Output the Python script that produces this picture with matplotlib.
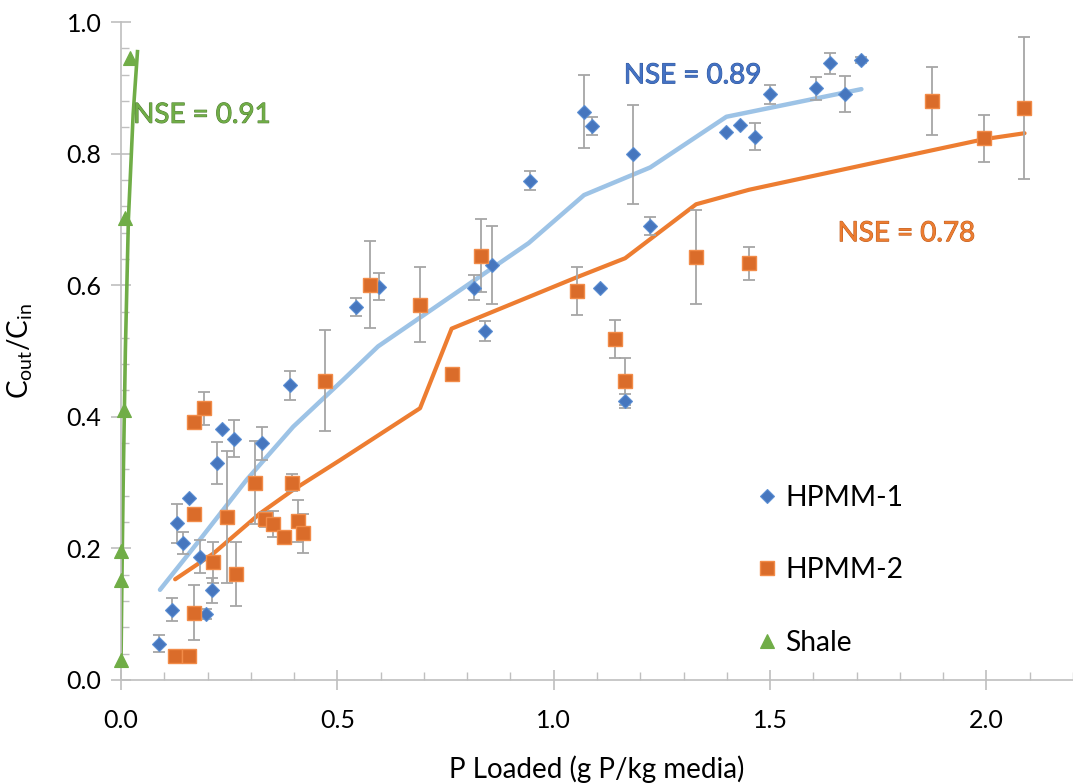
import matplotlib
matplotlib.use("Agg")
import matplotlib.pyplot as plt
import matplotlib.patheffects as pe
from matplotlib.ticker import MultipleLocator, FormatStrFormatter

plt.rcParams['font.family'] = ['Lato', 'DejaVu Sans']
plt.rcParams['mathtext.default'] = 'regular'

# ---------------- data ----------------
# HPMM-1 observations
h1_x = [0.088, 0.117, 0.130, 0.143, 0.156, 0.182, 0.196, 0.210, 0.222, 0.234, 0.262,
        0.326, 0.390, 0.544, 0.597, 0.816, 0.842, 0.857, 0.946, 1.070, 1.088, 1.107,
        1.164, 1.184, 1.223, 1.399, 1.431, 1.466, 1.500, 1.607, 1.638, 1.672, 1.710]
h1_y = [0.055, 0.107, 0.238, 0.208, 0.277, 0.187, 0.100, 0.136, 0.330, 0.381, 0.367,
        0.360, 0.448, 0.567, 0.598, 0.596, 0.530, 0.631, 0.759, 0.864, 0.842, 0.595,
        0.424, 0.799, 0.690, 0.833, 0.844, 0.826, 0.890, 0.899, 0.937, 0.891, 0.942]
h1_err = [0.013, 0.017, 0.030, 0.017, 0.0, 0.025, 0.008, 0.019, 0.032, 0.0, 0.028,
          0.025, 0.022, 0.014, 0.020, 0.019, 0.015, 0.059, 0.015, 0.055, 0.014, 0.0,
          0.010, 0.075, 0.013, 0.0, 0.0, 0.021, 0.014, 0.017, 0.016, 0.027, 0.005]

# HPMM-2 observations
h2_x = [0.125, 0.158, 0.169, 0.169, 0.169, 0.192, 0.213, 0.244, 0.266, 0.309, 0.333,
        0.352, 0.376, 0.394, 0.408, 0.420, 0.472, 0.575, 0.691, 0.764, 0.831, 1.053,
        1.142, 1.165, 1.329, 1.451, 1.874, 1.995, 2.086]
h2_y = [0.036, 0.036, 0.102, 0.252, 0.392, 0.413, 0.179, 0.248, 0.161, 0.300, 0.244,
        0.237, 0.217, 0.300, 0.241, 0.223, 0.455, 0.601, 0.570, 0.465, 0.645, 0.591,
        0.518, 0.454, 0.643, 0.633, 0.880, 0.823, 0.869]
h2_err = [0.0, 0.0, 0.042, 0.0, 0.0, 0.025, 0.031, 0.100, 0.049, 0.063, 0.012,
          0.020, 0.0, 0.013, 0.032, 0.030, 0.077, 0.066, 0.057, 0.0, 0.056, 0.036,
          0.029, 0.036, 0.072, 0.025, 0.052, 0.036, 0.108]

# Shale observations
sh_x = [0.001, 0.001, 0.001, 0.006, 0.010, 0.021]
sh_y = [0.030, 0.152, 0.196, 0.410, 0.702, 0.945]

# model curves
m1_x = [0.090, 0.182, 0.290, 0.398, 0.513, 0.594, 0.942, 1.070, 1.223, 1.399, 1.607, 1.711]
m1_y = [0.137, 0.213, 0.304, 0.385, 0.456, 0.507, 0.664, 0.737, 0.779, 0.856, 0.884, 0.898]

m2_x = [0.125, 0.213, 0.321, 0.398, 0.506, 0.691, 0.764, 1.053, 1.165, 1.329, 1.451, 1.874, 1.995, 2.088]
m2_y = [0.153, 0.192, 0.253, 0.289, 0.334, 0.413, 0.534, 0.612, 0.641, 0.723, 0.745, 0.805, 0.822, 0.831]

ms_x = [0.000, 0.002, 0.005, 0.010, 0.017, 0.028, 0.038]
ms_y = [0.030, 0.150, 0.300, 0.500, 0.700, 0.860, 0.955]

x_ticks = [0.0, 0.5, 1.0, 1.5, 2.0]
y_ticks = [0.0, 0.2, 0.4, 0.6, 0.8, 1.0]

# ---------------- styling ----------------
BLUE_F, BLUE_E = '#4676BE', '#5B8FD3'
ORG_F, ORG_E = '#DA6C2A', '#F28B48'
GRN = '#70AD47'
BLUE_LINE = '#9DC3E6'
ORG_LINE = '#ED7D31'
ERR_C = '#A6A6A6'
AX_C = '#BFBFBF'

fig = plt.figure(figsize=(10.73, 7.84), dpi=100)
ax = fig.add_axes([0.1128, 0.1327, 0.8872, 0.8392])

# model lines
ax.plot(m1_x, m1_y, color=BLUE_LINE, lw=3.2, zorder=2, solid_capstyle='round')
ax.plot(m2_x, m2_y, color=ORG_LINE, lw=3.0, zorder=2, solid_capstyle='round')
ax.plot(ms_x, ms_y, color=GRN, lw=2.6, zorder=2)

# error bars
ax.errorbar(h1_x, h1_y, yerr=h1_err, fmt='none', ecolor=ERR_C, elinewidth=1.3,
            capsize=4.5, capthick=1.3, zorder=3)
ax.errorbar(h2_x, h2_y, yerr=h2_err, fmt='none', ecolor=ERR_C, elinewidth=1.3,
            capsize=4.5, capthick=1.3, zorder=3)

# markers
ax.plot(h1_x, h1_y, ls='none', marker='D', ms=7.0, mfc=BLUE_F, mec=BLUE_E, mew=0.8,
        zorder=4, label='HPMM-1')
ax.plot(h2_x, h2_y, ls='none', marker='s', ms=9.5, mfc=ORG_F, mec=ORG_E, mew=1.0,
        zorder=4, label='HPMM-2')
ax.plot(sh_x, sh_y, ls='none', marker='^', ms=9.5, mfc=GRN, mec=GRN, mew=0.8,
        zorder=4, label='Shale', clip_on=False)

# annotations
def nse(x, y, s, c, ec):
    ax.text(x, y, s, color=c, fontsize=20, va='center', ha='left', zorder=5,
            path_effects=[pe.withStroke(linewidth=0.7, foreground=ec)])

nse(0.028, 0.859, 'NSE = 0.91', GRN, '#4E7A31')
nse(1.162, 0.919, 'NSE = 0.89', '#4472C4', '#2F5597')
nse(1.656, 0.679, 'NSE = 0.78', ORG_LINE, '#B85A1E')

# axes
ax.set_xlim(0, 2.2)
ax.set_ylim(0, 1.0)
ax.set_xticks(x_ticks)
ax.set_yticks(y_ticks)
ax.xaxis.set_major_formatter(FormatStrFormatter('%.1f'))
ax.yaxis.set_major_formatter(FormatStrFormatter('%.1f'))
ax.xaxis.set_minor_locator(MultipleLocator(0.1))
ax.yaxis.set_minor_locator(MultipleLocator(0.04))
for s in ['top', 'right']:
    ax.spines[s].set_visible(False)
for s in ['left', 'bottom']:
    ax.spines[s].set_color(AX_C)
    ax.spines[s].set_linewidth(1.2)
ax.tick_params(which='major', direction='inout', length=14, width=1.2, color=AX_C,
               labelsize=18, labelcolor='black')
ax.tick_params(axis='x', which='major', pad=14)
ax.tick_params(axis='y', which='major', pad=7)
ax.tick_params(which='minor', direction='in', length=6, width=1.0, color=AX_C)

ax.set_xlabel('P Loaded (g P/kg media)', fontsize=20, labelpad=17)
ax.set_ylabel(r'C$_{out}$/C$_{in}$', fontsize=20, labelpad=23)

leg = ax.legend(loc='center left', bbox_to_anchor=(0.6697, 0.167), frameon=False,
                fontsize=20.3, handlelength=0.6, handletextpad=0.34, labelspacing=1.65,
                borderaxespad=0, borderpad=0)

fig.savefig('out.png', dpi=100)
